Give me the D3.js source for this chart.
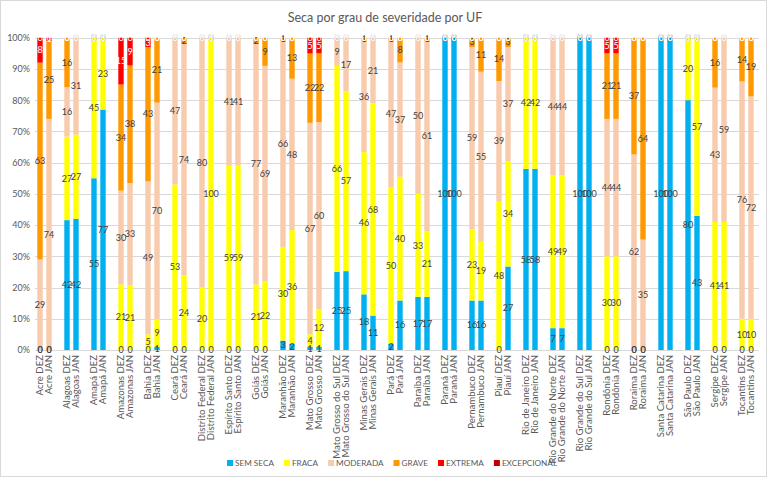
<!DOCTYPE html>
<html><head><meta charset="utf-8">
<script src="https://cdn.jsdelivr.net/npm/d3@7"></script>
<style>body{margin:0;background:#fff} svg{display:block}</style>
</head><body><svg id="c" width="768" height="479"></svg>
<script>
const states = ["Acre","Alagoas","Amapá","Amazonas","Bahia","Ceará","Distrito Federal","Espírito Santo","Goiás","Maranhão","Mato Grosso","Mato Grosso do Sul","Minas Gerais","Pará","Paraíba","Paraná","Pernambuco","Piauí","Rio de Janeiro","Rio Grande do Norte","Rio Grande do Sul","Rondônia","Roraima","Santa Catarina","São Paulo","Sergipe","Tocantins"];
const periods = ["DEZ","JAN"];
const seriesNames = ["SEM SECA","FRACA","MODERADA","GRAVE","EXTREMA","EXCEPCIONAL"];
const seriesColors = ["#00B0F0","#FFFF00","#F8CBAD","#FF9900","#FF0000","#C00000"];
// values per bar: state DEZ, state JAN, ...
const semSeca =    [0,0, 42,42, 55,77, 0,0, 0,1, 0,0, 0,0, 0,0, 0,0, 3,2, 1,1, 25,25, 18,11, 2,16, 17,17, 100,100, 16,16, 0,27, 58,58, 7,7, 100,100, 0,0, 0,0, 100,100, 80,43, 0,0, 0,0];
const fraca =      [0,0, 27,27, 45,23, 21,21, 5,9, 53,24, 20,100, 59,59, 21,22, 30,36, 4,12, 66,57, 46,68, 50,40, 33,21, 0,0, 23,19, 48,34, 42,42, 49,49, 0,0, 30,30, 0,0, 0,0, 20,57, 41,41, 10,10];
const moderada =   [29,74, 16,31, 0,0, 30,33, 49,70, 47,74, 80,0, 41,41, 77,69, 66,48, 67,60, 9,17, 36,21, 47,37, 50,61, 0,0, 59,55, 39,37, 0,0, 44,44, 0,0, 44,44, 62,35, 0,0, 0,0, 43,59, 76,72];
const grave =      [63,25, 16,0, 0,0, 34,38, 43,21, 0,2, 0,0, 0,0, 2,9, 1,13, 22,22, 0,0, 1,0, 1,8, 0,1, 0,0, 3,11, 14,3, 0,0, 0,0, 0,0, 21,21, 37,64, 0,0, 0,0, 16,0, 14,19];
const extrema =    [8,1, 0,0, 0,0, 15,9, 3,0, 0,0, 0,0, 0,0, 0,0, 0,0, 5,5, 0,0, 0,0, 0,0, 0,0, 0,0, 0,0, 0,0, 0,0, 0,0, 0,0, 5,5, 0,0, 0,0, 0,0, 0,0, 0,0];
const excepcional =[0,0, 0,0, 0,0, 0,0, 0,0, 0,0, 0,0, 0,0, 0,0, 0,0, 0,0, 0,0, 0,0, 0,0, 0,0, 0,0, 0,0, 0,0, 0,0, 0,0, 0,0, 0,0, 0,0, 0,0, 0,0, 0,0, 0,0];
const yTicks = [0,10,20,30,40,50,60,70,80,90,100];
const title = "Seca por grau de severidade por UF";

const seriesValues = [semSeca, fraca, moderada, grave, extrema, excepcional];
const rows = [];
states.forEach((s, i) => periods.forEach((p, j) => {
  const r = {key: s + " " + p};
  seriesNames.forEach((n, k) => r[n] = seriesValues[k][i * 2 + j]);
  rows.push(r);
}));
// slot domain with a blank between states
const domain = [];
states.forEach((s, i) => {
  periods.forEach(p => domain.push(s + " " + p));
  if (i < states.length - 1) domain.push("__gap" + i);
});

const svg = d3.select("#c");
const font = "Lato, 'Open Sans', sans-serif";
svg.append("rect").attr("x",0.5).attr("y",0.5).attr("width",766).attr("height",476)
  .attr("fill","#fff").attr("stroke","#d9d9d9");

const x = d3.scaleBand().domain(domain).range([35.5, 755.5]).paddingInner(0.4).paddingOuter(0.2);
const y = d3.scaleLinear().domain([0, 1]).range([350, 37.7]);

// gridlines
svg.append("g").selectAll("line").data(yTicks).join("line")
  .attr("x1", 35).attr("x2", 759)
  .attr("y1", d => Math.round(y(d/100)) + 0.5).attr("y2", d => Math.round(y(d/100)) + 0.5)
  .attr("stroke", "#d9d9d9").attr("stroke-width", 1);

// y axis labels
const yAxis = d3.axisLeft(y).tickValues(yTicks.map(d => d/100)).tickFormat(d3.format(".0%")).tickSize(0).tickPadding(6);
const ga = svg.append("g").attr("transform", "translate(30,0)").call(yAxis);
ga.select(".domain").remove();
ga.selectAll("text").attr("font-family", font).attr("font-size", 9).attr("fill", "#595959").attr("x", 0);

const stack = d3.stack().keys(seriesNames).offset(d3.stackOffsetExpand);
const stacked = stack(rows);

const gBars = svg.append("g");
stacked.forEach((ser, k) => {
  gBars.append("g").attr("fill", seriesColors[k]).selectAll("rect").data(ser).join("rect")
    .attr("x", d => x(d.data.key))
    .attr("width", x.bandwidth())
    .attr("y", d => y(d[1]))
    .attr("height", d => y(d[0]) - y(d[1]));
});

// data labels
const gLab = svg.append("g").attr("font-family", font).attr("font-size", 9).attr("text-anchor", "middle");
stacked.forEach((ser, k) => {
  gLab.append("g").attr("fill", k >= 4 ? "#ffffff" : "#404040").selectAll("text").data(ser).join("text")
    .attr("x", d => x(d.data.key) + x.bandwidth()/2)
    .attr("y", d => y((d[0] + d[1]) / 2))
    .attr("dy", "0.35em")
    .text(d => d.data[ser.key]);
});

// x labels
svg.append("g").attr("font-family", font).attr("font-size", 9.6).attr("fill", "#595959")
  .selectAll("text").data(rows).join("text")
  .attr("transform", d => `translate(${x(d.key) + x.bandwidth()/2},355) rotate(-90)`)
  .attr("text-anchor", "end").attr("dy", "0.35em")
  .text(d => d.key);

// title
svg.append("text").attr("x", 385).attr("y", 22).attr("text-anchor", "middle")
  .attr("font-family", font).attr("font-size", 12.5).attr("fill", "#595959").text(title);

// legend
const lg = svg.append("g").attr("font-family", font).attr("font-size", 8.2).attr("fill", "#595959");
let lx = 227;
seriesNames.forEach((n, k) => {
  lg.append("rect").attr("x", lx).attr("y", 460).attr("width", 6).attr("height", 6).attr("fill", seriesColors[k]);
  const t = lg.append("text").attr("x", lx + 8).attr("y", 463).attr("dy", "0.35em").text(n);
  lx += 8 + t.node().getComputedTextLength() + 10;
});
</script></body></html>
